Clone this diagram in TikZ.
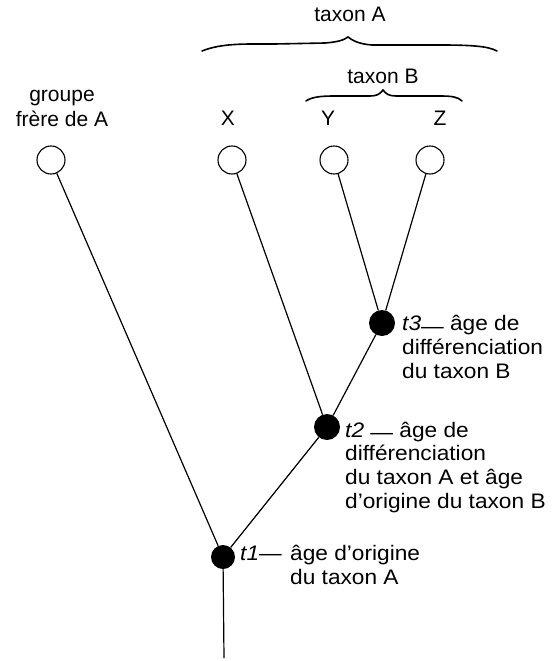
\documentclass[tikz,border=0pt]{standalone}
\usepackage{fontspec}
\setmainfont{Liberation Sans}
\newfontfamily\widefont[FakeStretch=1.08]{Liberation Sans}
\begin{document}
\begin{tikzpicture}[x=1pt,y=-1pt,
  leaf/.style={circle,draw,line width=1.1pt,minimum size=28pt,inner sep=0pt},
  blackdot/.style={circle,fill=black,minimum size=26pt,inner sep=0pt},
  lbl/.style={font=\fontsize{21}{24}\selectfont,inner sep=0pt},
  tlbl/.style={font=\widefont\fontsize{21}{24}\selectfont,inner sep=0pt},
  edge/.style={line width=1.2pt},
  bracepath/.style={line width=1.6pt,line cap=round}]
\useasboundingbox (0,0) rectangle (554,661);

% braces
\draw[bracepath] (202,51) .. controls (222,43) and (245,44) .. (275,44) -- (325,43)
  .. controls (338,42) and (344,40) .. (348,37)
  .. controls (352,40) and (358,44) .. (372,45) -- (440,45)
  .. controls (470,45) and (488,46) .. (497,51);
\draw[bracepath] (306,101) .. controls (312,97) and (320,96) .. (335,96) -- (370,96)
  .. controls (377,96) and (380,94) .. (383,90)
  .. controls (386,94) and (389,96) .. (396,96) -- (440,96)
  .. controls (452,96) and (458,97) .. (462,101);
\node[lbl,anchor=base] (la) at (350,22) {taxon A};
\node[lbl,anchor=base] (lb) at (383,83) {taxon B};

% leaf labels
\node[lbl,anchor=base] (lg) at (62,101) {\begin{tabular}[t]{@{}c@{}}groupe\\[1pt]frère de A\end{tabular}};
\node[lbl,anchor=base] (lx) at (228,125) {X};
\node[lbl,anchor=base] (ly) at (328,125) {Y};
\node[lbl,anchor=base] (lz) at (440,125) {Z};

% nodes
\node[leaf] (g) at (51,160) {};
\node[leaf] (x) at (232,160) {};
\node[leaf] (y) at (334,160) {};
\node[leaf] (z) at (430,160) {};
\node[blackdot] (t3) at (382,323) {};
\node[blackdot] (t2) at (327,427) {};
\node[blackdot,minimum size=24pt] (t1) at (223,557) {};
\coordinate (root) at (224,658);

% edges
\draw[edge] (g) -- (t1);
\draw[edge] (x) -- (t2);
\draw[edge] (y) -- (t3);
\draw[edge] (z) -- (t3);
\draw[edge] (t3) -- (t2);
\draw[edge] (t2) -- (t1);
\draw[edge] (t1) -- (root);

% time labels
\node[tlbl,anchor=base west] (d3) at (402,330) {\begin{tabular}[t]{@{}l@{}}\textit{t3}\raisebox{-0.3ex}{—} âge de\\différenciation\\du taxon B\end{tabular}};
\node[tlbl,anchor=base west,font=\widefont\fontsize{21}{23.7}\selectfont] (d2) at (345,437) {\begin{tabular}[t]{@{}l@{}}\textit{t2} \raisebox{-0.2ex}{—} âge de\\différenciation\\du taxon A et âge\\d’origine du taxon B\end{tabular}};
\node[tlbl,anchor=base west] (d1a) at (240,560) {\textit{t1}—};
\node[tlbl,anchor=base west] (d1b) at (290,560) {\begin{tabular}[t]{@{}l@{}}âge d’origine\\du taxon A\end{tabular}};
\end{tikzpicture}
\end{document}
